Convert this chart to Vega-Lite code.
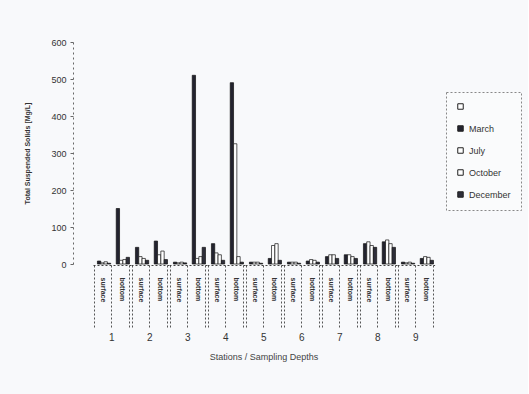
{
  "$schema": "https://vega.github.io/schema/vega-lite/v6.json",
  "background": "#f8f9fb",
  "padding": {"left": 23, "top": 38, "right": 6, "bottom": 36},
  "data": {"values": [
    {"station": 1, "depth": "surface", "series": "March", "value": 8},
    {"station": 1, "depth": "surface", "series": "July", "value": 3},
    {"station": 1, "depth": "surface", "series": "October", "value": 6},
    {"station": 1, "depth": "surface", "series": "December", "value": 2},
    {"station": 1, "depth": "bottom", "series": "March", "value": 150},
    {"station": 1, "depth": "bottom", "series": "July", "value": 10},
    {"station": 1, "depth": "bottom", "series": "October", "value": 12},
    {"station": 1, "depth": "bottom", "series": "December", "value": 18},
    {"station": 2, "depth": "surface", "series": "March", "value": 45},
    {"station": 2, "depth": "surface", "series": "July", "value": 20},
    {"station": 2, "depth": "surface", "series": "October", "value": 15},
    {"station": 2, "depth": "surface", "series": "December", "value": 10},
    {"station": 2, "depth": "bottom", "series": "March", "value": 62},
    {"station": 2, "depth": "bottom", "series": "July", "value": 25},
    {"station": 2, "depth": "bottom", "series": "October", "value": 35},
    {"station": 2, "depth": "bottom", "series": "December", "value": 12},
    {"station": 3, "depth": "surface", "series": "March", "value": 5},
    {"station": 3, "depth": "surface", "series": "July", "value": 3},
    {"station": 3, "depth": "surface", "series": "October", "value": 5},
    {"station": 3, "depth": "surface", "series": "December", "value": 3},
    {"station": 3, "depth": "bottom", "series": "March", "value": 510},
    {"station": 3, "depth": "bottom", "series": "July", "value": 15},
    {"station": 3, "depth": "bottom", "series": "October", "value": 20},
    {"station": 3, "depth": "bottom", "series": "December", "value": 45},
    {"station": 4, "depth": "surface", "series": "March", "value": 55},
    {"station": 4, "depth": "surface", "series": "July", "value": 30},
    {"station": 4, "depth": "surface", "series": "October", "value": 25},
    {"station": 4, "depth": "surface", "series": "December", "value": 10},
    {"station": 4, "depth": "bottom", "series": "March", "value": 490},
    {"station": 4, "depth": "bottom", "series": "July", "value": 325},
    {"station": 4, "depth": "bottom", "series": "October", "value": 20},
    {"station": 4, "depth": "bottom", "series": "December", "value": 5},
    {"station": 5, "depth": "surface", "series": "March", "value": 5},
    {"station": 5, "depth": "surface", "series": "July", "value": 5},
    {"station": 5, "depth": "surface", "series": "October", "value": 5},
    {"station": 5, "depth": "surface", "series": "December", "value": 2},
    {"station": 5, "depth": "bottom", "series": "March", "value": 15},
    {"station": 5, "depth": "bottom", "series": "July", "value": 50},
    {"station": 5, "depth": "bottom", "series": "October", "value": 55},
    {"station": 5, "depth": "bottom", "series": "December", "value": 10},
    {"station": 6, "depth": "surface", "series": "March", "value": 5},
    {"station": 6, "depth": "surface", "series": "July", "value": 5},
    {"station": 6, "depth": "surface", "series": "October", "value": 5},
    {"station": 6, "depth": "surface", "series": "December", "value": 2},
    {"station": 6, "depth": "bottom", "series": "March", "value": 8},
    {"station": 6, "depth": "bottom", "series": "July", "value": 12},
    {"station": 6, "depth": "bottom", "series": "October", "value": 10},
    {"station": 6, "depth": "bottom", "series": "December", "value": 5},
    {"station": 7, "depth": "surface", "series": "March", "value": 20},
    {"station": 7, "depth": "surface", "series": "July", "value": 25},
    {"station": 7, "depth": "surface", "series": "October", "value": 25},
    {"station": 7, "depth": "surface", "series": "December", "value": 15},
    {"station": 7, "depth": "bottom", "series": "March", "value": 25},
    {"station": 7, "depth": "bottom", "series": "July", "value": 25},
    {"station": 7, "depth": "bottom", "series": "October", "value": 20},
    {"station": 7, "depth": "bottom", "series": "December", "value": 15},
    {"station": 8, "depth": "surface", "series": "March", "value": 55},
    {"station": 8, "depth": "surface", "series": "July", "value": 60},
    {"station": 8, "depth": "surface", "series": "October", "value": 50},
    {"station": 8, "depth": "surface", "series": "December", "value": 45},
    {"station": 8, "depth": "bottom", "series": "March", "value": 60},
    {"station": 8, "depth": "bottom", "series": "July", "value": 65},
    {"station": 8, "depth": "bottom", "series": "October", "value": 55},
    {"station": 8, "depth": "bottom", "series": "December", "value": 45},
    {"station": 9, "depth": "surface", "series": "March", "value": 5},
    {"station": 9, "depth": "surface", "series": "July", "value": 3},
    {"station": 9, "depth": "surface", "series": "October", "value": 5},
    {"station": 9, "depth": "surface", "series": "December", "value": 2},
    {"station": 9, "depth": "bottom", "series": "March", "value": 15},
    {"station": 9, "depth": "bottom", "series": "July", "value": 20},
    {"station": 9, "depth": "bottom", "series": "October", "value": 18},
    {"station": 9, "depth": "bottom", "series": "December", "value": 10}
  ]},
  "spacing": 0,
  "facet": {
    "column": {
      "field": "station", "type": "ordinal",
      "header": {
        "labelOrient": "bottom", "titleOrient": "bottom",
        "title": "Stations / Sampling Depths",
        "labelFont": "Liberation Sans", "labelFontSize": 10, "labelColor": "#333", "labelPadding": 3,
        "titleFont": "Liberation Sans", "titleFontSize": 9, "titleFontWeight": "normal", "titleColor": "#444", "titlePadding": 0
      }
    }
  },
  "spec": {
    "width": 37.6,
    "height": 222,
    "mark": {"type": "bar", "stroke": "#111", "strokeWidth": 0.7},
    "encoding": {
      "x": {
        "field": "depth", "type": "nominal", "sort": ["surface", "bottom"],
        "scale": {"paddingInner": 0.12, "paddingOuter": 0.06},
        "axis": {
          "title": null, "labelAngle": 90, "labelFont": "Liberation Sans", "labelFontSize": 7, "labelFontWeight": "bold",
          "labelColor": "#333", "tickBand": "extent", "tickSize": 64, "tickDash": [2, 2], "tickColor": "#555",
          "labelPadding": -52, "domainColor": "#444", "domainDash": [2, 2]
        }
      },
      "xOffset": {"field": "series", "scale": {"domain": [" ", "March", "July", "October", "December"]}},
      "y": {
        "field": "value", "type": "quantitative",
        "scale": {"domain": [0, 600]},
        "axis": {
          "title": "Total Suspended Solids [Mg/L]", "values": [0, 100, 200, 300, 400, 500, 600],
          "offset": 20, "grid": false, "domainDash": [2, 3], "domainColor": "#666", "tickSize": 3, "tickColor": "#666",
          "labelFont": "Liberation Sans", "labelFontSize": 9, "labelColor": "#333", "labelPadding": 4,
          "titleFont": "Liberation Sans", "titleFontSize": 7, "titleFontWeight": "bold", "titleColor": "#333", "titlePadding": 20
        }
      },
      "color": {
        "field": "series", "type": "nominal",
        "scale": {"domain": [" ", "March", "July", "October", "December"], "range": ["#ffffff", "#23232f", "#ffffff", "#ffffff", "#2e2e3a"]},
        "legend": {
          "title": null, "orient": "none", "legendX": 353, "legendY": 50,
          "symbolType": "square", "symbolSize": 30, "symbolStrokeColor": "#222", "symbolStrokeWidth": 1,
          "labelFont": "Liberation Sans", "labelFontSize": 9, "labelColor": "#333", "rowPadding": 11,
          "padding": 10, "strokeColor": "#888", "fillColor": "#fafbfc", "labelLimit": 60,
          "encode": {"legend": {"update": {"strokeDash": {"value": [2, 2]}}}}
        }
      }
    }
  },
  "config": {"view": {"stroke": null}}
}
